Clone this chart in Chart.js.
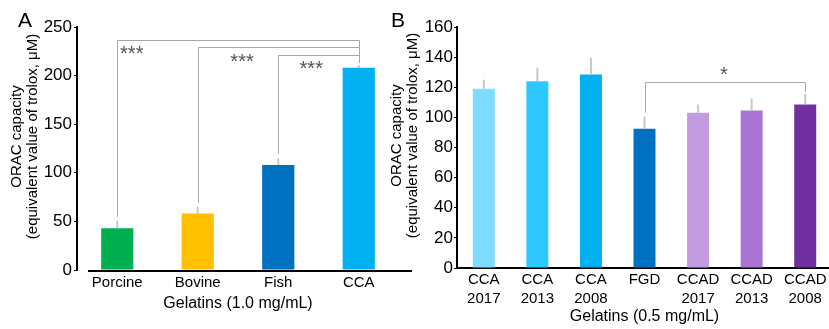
<!DOCTYPE html>
<html>
<head>
<meta charset="utf-8">
<script src="https://cdn.jsdelivr.net/npm/chart.js@4.4.1/dist/chart.umd.min.js"></script>
<style>
  body { margin: 0; background: #fff; overflow: hidden; }
  #wrap { position: relative; width: 829px; height: 329px; overflow: hidden; }
  canvas { position: absolute; top: 0; }
  .panel { position: absolute; font-family: "Liberation Sans", Arial, sans-serif; font-size: 21px; color: #000; }
</style>
</head>
<body>
<div id="wrap">
  <canvas id="chartA" width="415" height="329" style="left:0px"></canvas>
  <canvas id="chartB" width="452" height="329" style="left:383px"></canvas>
  <div class="panel" style="left:18px;top:8px">A</div>
  <div class="panel" style="left:391px;top:8px">B</div>
</div>
<script>
// panel A
const catsA = ['Porcine', 'Bovine', 'Fish', 'CCA'];
const valsA = [43, 58, 108, 208];
const errsA = [7.5, 7, 7, 3];
const colorsA = ['#00B050', '#FFC000', '#0070C0', '#00B0F0'];
const ticksA = [0, 50, 100, 150, 200, 250];
// brackets A: from bar -> to bar, height, label, label position (category, value)
const brFromA = [0, 1, 2];
const brToA = [3, 3, 3];
const brLevelA = [236.5, 229, 221];
const brTextA = ['***', '***', '***'];
const starXA = [0.18, 1.55, 2.41];
const starYA = [225.5, 218, 210];

// panel B
const catsB = [['CCA', '2017'], ['CCA', '2013'], ['CCA', '2008'], 'FGD', ['CCAD', '2017'], ['CCAD', '2013'], ['CCAD', '2008']];
const valsB = [119, 124, 128.5, 92.5, 103, 104.5, 108.5];
const errsB = [6, 9, 11, 8, 5.5, 8, 7];
const colorsB = ['#7FDBFF', '#2DC8FF', '#00B0F0', '#0070C0', '#C39BE0', '#A974D3', '#7030A0'];
const ticksB = [0, 20, 40, 60, 80, 100, 120, 140, 160];
const brFromB = [3];
const brToB = [6];
const brLevelB = [123.4];
const brTextB = ['*'];
const starXB = [4.48];
const starYB = [130.5];

const yTitle = ['ORAC capacity', '(equivalent value of trolox, μM)'];

Chart.defaults.font.family = '"Liberation Sans", Arial, sans-serif';
Chart.defaults.color = '#000';

function errorBars(errs) {
  return {
    id: 'errbars',
    afterDatasetsDraw(chart) {
      const ctx = chart.ctx;
      const y = chart.scales.y;
      const vals = chart.data.datasets[0].data;
      ctx.save();
      ctx.strokeStyle = '#c8c8c8';
      ctx.lineWidth = 2;
      chart.getDatasetMeta(0).data.forEach((bar, i) => {
        ctx.beginPath();
        ctx.moveTo(bar.x, bar.y);
        ctx.lineTo(bar.x, y.getPixelForValue(vals[i] + errs[i]));
        ctx.stroke();
      });
      ctx.restore();
    }
  };
}

function brackets(from, to, level, text, sx, sy, errs) {
  return {
    id: 'brackets',
    afterDatasetsDraw(chart) {
      const ctx = chart.ctx;
      const x = chart.scales.x, y = chart.scales.y;
      const vals = chart.data.datasets[0].data;
      ctx.save();
      ctx.strokeStyle = '#a8a8a8';
      ctx.lineWidth = 1;
      for (let i = 0; i < from.length; i++) {
        const x1 = Math.round(x.getPixelForValue(from[i])) + 0.5;
        const x2 = Math.round(x.getPixelForValue(to[i])) + 0.5;
        const yl = Math.round(y.getPixelForValue(level[i])) + 0.5;
        const y1 = y.getPixelForValue(vals[from[i]] + errs[from[i]]) - 4;
        const y2 = y.getPixelForValue(vals[to[i]] + errs[to[i]]) - 2;
        ctx.beginPath();
        ctx.moveTo(x1, y1);
        ctx.lineTo(x1, yl);
        ctx.lineTo(x2, yl);
        ctx.lineTo(x2, y2);
        ctx.stroke();
        // star label
        const k = Math.floor(sx[i]);
        const px = x.getPixelForValue(k) + (sx[i] - k) * (x.getPixelForValue(k + 1) - x.getPixelForValue(k));
        ctx.fillStyle = '#555';
        ctx.font = '20px "Liberation Sans", Arial, sans-serif';
        ctx.textAlign = 'center';
        ctx.textBaseline = 'middle';
        ctx.fillText(text[i], px, y.getPixelForValue(sy[i]) + 4);
      }
      ctx.restore();
    }
  };
}

// two-line rotated y title, sitting a little above the middle of the axis
function yTitlePlugin(x1) {
  return {
    id: 'ytitle',
    afterDraw(chart) {
      const ctx = chart.ctx;
      const a = chart.chartArea;
      const cy = (a.top + a.bottom) / 2 - 12;
      ctx.save();
      ctx.fillStyle = '#000';
      ctx.font = '15px "Liberation Sans", Arial, sans-serif';
      ctx.textAlign = 'center';
      ctx.textBaseline = 'middle';
      yTitle.forEach((t, i) => {
        ctx.save();
        ctx.translate(x1 + i * 16, cy);
        ctx.rotate(-Math.PI / 2);
        ctx.fillText(t, 0, 0);
        ctx.restore();
      });
      ctx.restore();
    }
  };
}

// x axis line of panel A sits a bit right of the y axis
const shiftedAxisLine = {
  id: 'xline',
  afterDraw(chart) {
    const ctx = chart.ctx;
    const a = chart.chartArea;
    ctx.save();
    ctx.strokeStyle = '#000';
    ctx.lineWidth = 2;
    ctx.beginPath();
    ctx.moveTo(a.left + 11, a.bottom + 1);
    ctx.lineTo(a.right + 13, a.bottom + 1);
    ctx.stroke();
    ctx.restore();
  }
};

new Chart(document.getElementById('chartA'), {
  type: 'bar',
  data: {
    labels: catsA,
    datasets: [{
      data: valsA,
      backgroundColor: colorsA,
      barPercentage: 0.4,
      categoryPercentage: 1.0
    }]
  },
  options: {
    responsive: false,
    devicePixelRatio: 1,
    animation: false,
    layout: { padding: { top: 27, right: 16, left: 0, bottom: 0 } },
    plugins: { legend: { display: false }, tooltip: { enabled: false } },
    scales: {
      x: {
        grid: { display: false, drawTicks: false },
        border: { display: false },
        ticks: { font: { size: 15 }, color: '#000', padding: 4 },
        title: { display: true, text: 'Gelatins (1.0 mg/mL)', font: { size: 16 }, color: '#000', padding: { bottom: 16 } },
        afterFit: s => { s.height = 59; }
      },
      y: {
        min: 0, max: 250,
        afterBuildTicks: s => { s.ticks = ticksA.map(v => ({ value: v })); },
        grid: { drawOnChartArea: false, drawTicks: true, tickLength: 3, color: '#000' },
        border: { display: true, color: '#000', width: 2 },
        ticks: { font: { size: 17 }, color: '#000', padding: 2 },
        afterFit: s => { s.width = 77; }
      }
    }
  },
  plugins: [errorBars(errsA), brackets(brFromA, brToA, brLevelA, brTextA, starXA, starYA, errsA), shiftedAxisLine, yTitlePlugin(17)]
});

new Chart(document.getElementById('chartB'), {
  type: 'bar',
  data: {
    labels: catsB,
    datasets: [{
      data: valsB,
      backgroundColor: colorsB,
      barPercentage: 0.41,
      categoryPercentage: 1.0
    }]
  },
  options: {
    responsive: false,
    devicePixelRatio: 1,
    animation: false,
    layout: { padding: { top: 27, right: 3, left: 0, bottom: 0 } },
    plugins: { legend: { display: false }, tooltip: { enabled: false } },
    scales: {
      x: {
        grid: { display: false, drawTicks: false },
        border: { display: true, color: '#000', width: 2 },
        ticks: { font: { size: 15, lineHeight: 1.27 }, color: '#000', padding: 2, maxRotation: 0, autoSkip: false },
        title: { display: true, text: 'Gelatins (0.5 mg/mL)', font: { size: 16 }, color: '#000', padding: { bottom: 3 } },
        afterFit: s => { s.height = 61; }
      },
      y: {
        min: 0, max: 160,
        afterBuildTicks: s => { s.ticks = ticksB.map(v => ({ value: v })); },
        grid: { drawOnChartArea: false, drawTicks: true, tickLength: 3, color: '#000' },
        border: { display: true, color: '#000', width: 2 },
        ticks: { font: { size: 17 }, color: '#000', padding: 1 },
        afterFit: s => { s.width = 74; }
      }
    }
  },
  plugins: [errorBars(errsB), brackets(brFromB, brToB, brLevelB, brTextB, starXB, starYB, errsB), yTitlePlugin(14)]
});
</script>
</body>
</html>
